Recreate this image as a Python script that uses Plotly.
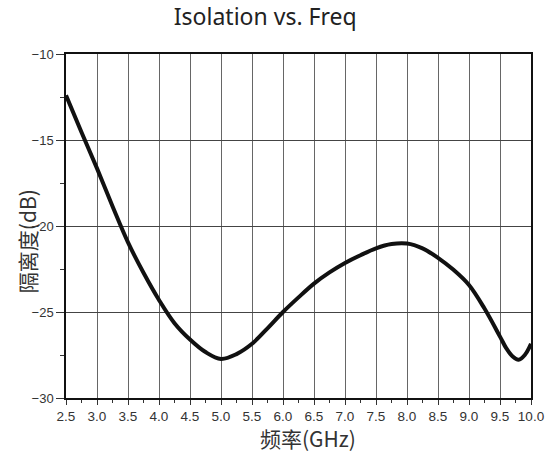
import plotly.graph_objects as go

freq_ghz = [2.5, 2.75, 3.0, 3.25, 3.5, 3.75, 4.0, 4.25, 4.5, 4.75, 5.0, 5.25, 5.5, 5.75,
            6.0, 6.25, 6.5, 6.75, 7.0, 7.25, 7.5, 7.75, 8.0, 8.25, 8.5, 8.75, 9.0, 9.25,
            9.5, 9.6, 9.7, 9.8, 9.9, 10.0]
isolation_db = [-12.4, -14.55, -16.65, -18.85, -20.95, -22.72, -24.3, -25.65, -26.6, -27.33,
                -27.73, -27.45, -26.85, -25.95, -25.0, -24.15, -23.35, -22.7, -22.15, -21.7,
                -21.3, -21.05, -21.02, -21.3, -21.85, -22.55, -23.43, -24.8, -26.43,
                -27.1, -27.57, -27.77, -27.5, -26.85]
x_ticks = [2.5, 3.0, 3.5, 4.0, 4.5, 5.0, 5.5, 6.0, 6.5, 7.0, 7.5, 8.0, 8.5, 9.0, 9.5, 10.0]
x_tick_labels = ["2.5", "3.0", "3.5", "4.0", "4.5", "5.0", "5.5", "6.0", "6.5", "7.0",
                 "7.5", "8.0", "8.5", "9.0", "9.5", "10.0"]
y_ticks = [-30, -25, -20, -15, -10]

fig = go.Figure()
fig.add_trace(go.Scatter(
    x=freq_ghz, y=isolation_db, mode="lines",
    line=dict(color="#111111", width=4, shape="spline", smoothing=1.0),
    showlegend=False, hoverinfo="x+y",
))

axis_font = dict(family="Liberation Sans, Arial, sans-serif", color="#333333")

fig.update_layout(
    width=556, height=453,
    margin=dict(l=66, r=18, t=54, b=55),
    paper_bgcolor="white", plot_bgcolor="white",
    title=dict(text="Isolation vs. Freq", x=0.477, xref="container", xanchor="center",
               y=0.962, yref="container", yanchor="middle",
               font=dict(family="Noto Sans, Open Sans, sans-serif", size=23, color="#222222")),
    xaxis=dict(
        range=[2.5, 10.0], tickvals=x_ticks, ticktext=x_tick_labels,
        showgrid=True, gridcolor="#666666", gridwidth=1,
        showline=True, linecolor="#111111", linewidth=1.5, mirror=True,
        ticks="outside", ticklen=5, tickcolor="#333333", tickwidth=1,
        minor=dict(dtick=0.25, ticks="outside", ticklen=3, tickcolor="#333333", showgrid=False),
        tickfont=dict(size=13.5, **axis_font), zeroline=False, fixedrange=True,
    ),
    yaxis=dict(
        range=[-30, -10], tickvals=y_ticks,
        showgrid=True, gridcolor="#444444", gridwidth=1,
        showline=True, linecolor="#111111", linewidth=1.5, mirror=True,
        ticks="outside", ticklen=8, tickcolor="#333333", tickwidth=1,
        minor=dict(dtick=2.5, ticks="outside", ticklen=4, tickcolor="#333333", showgrid=False),
        tickfont=dict(size=13, **axis_font), zeroline=False, fixedrange=True,
    ),
    annotations=[
        dict(text="频率(GHz)", xref="paper", yref="paper", x=0.52, y=0, yshift=-40,
             xanchor="center", yanchor="middle", showarrow=False,
             font=dict(family="Noto Sans CJK SC, sans-serif", size=21, color="#333333")),
        dict(text="隔离度(dB)", xref="paper", yref="paper", x=0, xshift=-39, y=0.456,
             xanchor="center", yanchor="middle", showarrow=False, textangle=-90,
             font=dict(family="Noto Sans CJK SC, sans-serif", size=21, color="#333333")),
    ],
)

fig.write_html("out.html", config={"displayModeBar": False},
               post_script="document.body.style.margin='0';")
